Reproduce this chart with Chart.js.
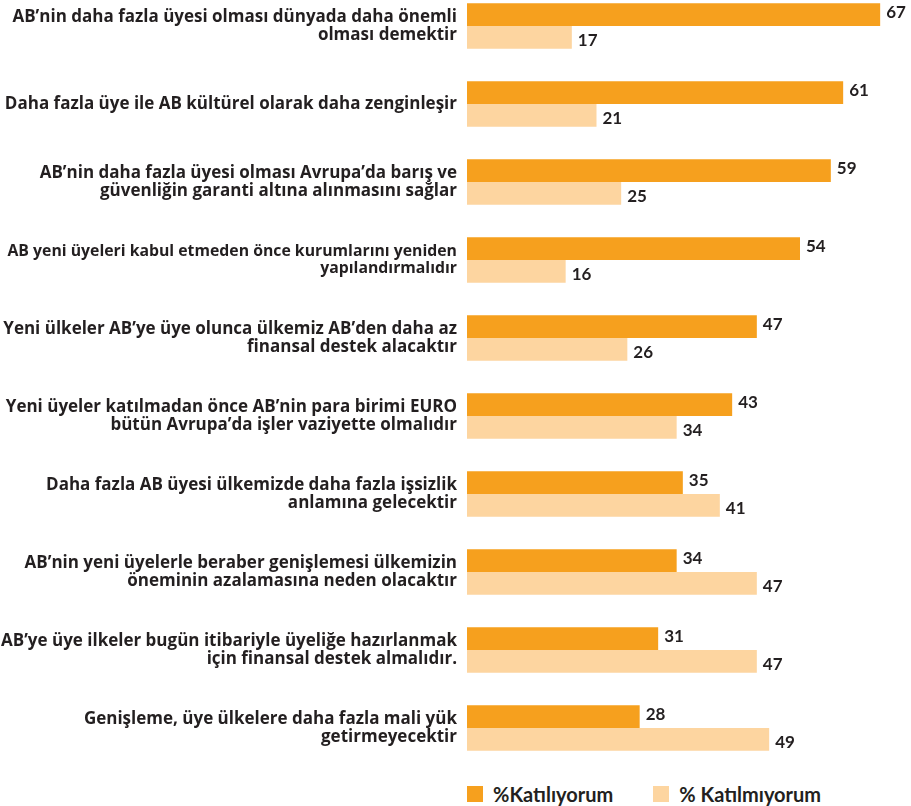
<!DOCTYPE html>
<html lang="tr">
<head>
    <meta charset="UTF-8">
    <title>AB genişlemesi</title>
    <script src="https://cdn.jsdelivr.net/npm/chart.js"></script>
    <style>
        body { margin: 0; padding: 0; background: #fff; font-family: Lato, 'Open Sans', sans-serif; }
        .wrap { position: relative; width: 911px; height: 806px; overflow: hidden; }
        .chart-box { position: absolute; left: 0; top: -13px; width: 911px; height: 780px; }
        .legend { position: absolute; top: 782px; left: 467px; display: flex; align-items: center; font-size: 20px; font-weight: 700; color: #231f20; }
        .legend span.box { display: inline-block; width: 16px; height: 16px; margin-right: 10px; }
        .legend .item { display: flex; align-items: center; margin-right: 40px; }
    </style>
</head>
<body>
<div class="wrap">
    <div class="chart-box"><canvas id="chart"></canvas></div>
    <div class="legend" id="legend"></div>
</div>
<script>
const categories = [
    ['AB’nin daha fazla üyesi olması dünyada daha önemli', 'olması demektir'],
    'Daha fazla üye ile AB kültürel olarak daha zenginleşir',
    ['AB’nin daha fazla üyesi olması Avrupa’da barış ve', 'güvenliğin garanti altına alınmasını sağlar'],
    ['AB yeni üyeleri kabul etmeden önce kurumlarını yeniden', 'yapılandırmalıdır'],
    ['Yeni ülkeler AB’ye üye olunca ülkemiz AB’den daha az', 'finansal destek alacaktır'],
    ['Yeni üyeler katılmadan önce AB’nin para birimi EURO', 'bütün Avrupa’da işler vaziyette olmalıdır'],
    ['Daha fazla AB üyesi ülkemizde daha fazla işsizlik', 'anlamına gelecektir'],
    ['AB’nin yeni üyelerle beraber genişlemesi ülkemizin', 'öneminin azalamasına neden olacaktır'],
    ['AB’ye üye ilkeler bugün itibariyle üyeliğe hazırlanmak', 'için finansal destek almalıdır.'],
    ['Genişleme, üye ülkelere daha fazla mali yük', 'getirmeyecektir']
];
const katiliyorum = [67, 61, 59, 54, 47, 43, 35, 34, 31, 28];
const katilmiyorum = [17, 21, 25, 16, 26, 34, 41, 47, 47, 49];
const seriesNames = ['%Katılıyorum', '% Katılmıyorum'];
const colors = ['#f6a01e', '#fdd5a0'];

// value labels at the end of every bar
const valueLabels = {
    id: 'valueLabels',
    afterDatasetsDraw(chart) {
        const ctx = chart.ctx;
        ctx.save();
        ctx.font = 'bold 17px Lato, sans-serif';
        ctx.fillStyle = '#231f20';
        ctx.textBaseline = 'middle';
        chart.data.datasets.forEach((ds, di) => {
            const meta = chart.getDatasetMeta(di);
            meta.data.forEach((bar, i) => {
                const dy = di === 0 ? -2 : 3;
                ctx.fillText(ds.data[i], bar.x + 6, bar.y + dy);
            });
        });
        ctx.restore();
    }
};

new Chart(document.getElementById('chart'), {
    type: 'bar',
    data: {
        labels: categories,
        datasets: [
            { label: seriesNames[0], data: katiliyorum, backgroundColor: colors[0] },
            { label: seriesNames[1], data: katilmiyorum, backgroundColor: colors[1] }
        ]
    },
    options: {
        indexAxis: 'y',
        responsive: true,
        maintainAspectRatio: false,
        animation: false,
        layout: { padding: 0 },
        datasets: { bar: { categoryPercentage: 0.586, barPercentage: 1 } },
        plugins: { legend: { display: false }, tooltip: { enabled: false } },
        scales: {
            x: { display: false, min: 0, max: 72 },
            y: {
                grid: { display: false, drawTicks: false },
                border: { display: false },
                afterFit(scale) {
                    scale.width = 467;
                    scale.paddingTop = 0;
                    scale.paddingBottom = 0;
                },
                ticks: {
                    padding: 10,
                    color: '#231f20',
                    // the 4th label is set tighter in the original so it fits
                    font: (c) => ({
                        family: "'Open Sans', sans-serif",
                        size: c.index === 3 ? 15.8 : 17,
                        weight: 'bold',
                        lineHeight: c.index === 3 ? 1.1 : 1.03
                    })
                }
            }
        }
    },
    plugins: [valueLabels]
});

const legend = document.getElementById('legend');
seriesNames.forEach((name, i) => {
    const item = document.createElement('div');
    item.className = 'item';
    item.innerHTML = `<span class="box" style="background:${colors[i]}"></span>${name}`;
    legend.appendChild(item);
});
</script>
</body>
</html>
